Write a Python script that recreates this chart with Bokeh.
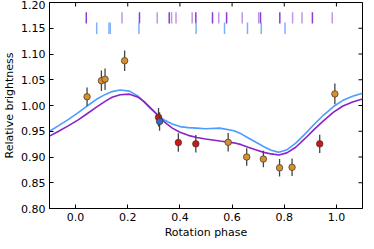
from bokeh.plotting import figure
from bokeh.models import FixedTicker, Range1d
from bokeh.embed import file_html
from bokeh.resources import INLINE

# ---- data ----
orange_phase = [0.044, 0.099, 0.113, 0.188, 0.585, 0.656, 0.720, 0.782, 0.830, 0.994]
orange_val   = [1.017, 1.048, 1.051, 1.087, 0.9285, 0.900, 0.896, 0.879, 0.880, 1.0225]
orange_err   = [0.018, 0.020, 0.021, 0.020, 0.018, 0.017, 0.016, 0.017, 0.017, 0.020]

red_phase = [0.318, 0.394, 0.461, 0.936]
red_val   = [0.977, 0.928, 0.9255, 0.9255]
red_err   = [0.018, 0.018, 0.017, 0.0175]

blue_phase = [0.322]
blue_val   = [0.969]
blue_err   = [0.018]

curve_phase  = [-0.10, -0.065, -0.03, 0.01, 0.044, 0.08, 0.116, 0.14, 0.171, 0.207, 0.24,
                0.262, 0.29, 0.316, 0.34, 0.371, 0.40, 0.432, 0.465, 0.498, 0.553, 0.607,
                0.635, 0.662, 0.69, 0.722, 0.75, 0.78, 0.81, 0.844, 0.88, 0.916, 0.95,
                0.989, 1.025, 1.062, 1.10]
curve_blue   = [0.950, 0.961, 0.972, 0.986, 0.999, 1.012, 1.022, 1.027, 1.030, 1.028, 1.018,
                1.007, 0.993, 0.981, 0.972, 0.964, 0.959, 0.957, 0.956, 0.955, 0.956, 0.951,
                0.945, 0.937, 0.929, 0.920, 0.913, 0.909, 0.914, 0.927, 0.945, 0.964, 0.981,
                0.998, 1.010, 1.018, 1.024]
curve_purple = [0.9405, 0.950, 0.960, 0.972, 0.984, 0.997, 1.009, 1.016, 1.021, 1.022, 1.016,
                1.008, 0.994, 0.981, 0.968, 0.956, 0.948, 0.942, 0.938, 0.935, 0.931, 0.9275,
                0.924, 0.919, 0.914, 0.909, 0.906, 0.904, 0.908, 0.919, 0.936, 0.954, 0.970,
                0.987, 0.999, 1.007, 1.0125]

purple_dark_ticks  = [0.041, 0.245, 0.359, 0.461, 0.525, 0.579, 0.709, 0.783, 0.908]
purple_light_ticks = [0.178, 0.313, 0.368, 0.385, 0.447, 0.549, 0.639, 0.702, 0.832, 0.868, 0.984]
blue_ticks = [0.081, 0.128, 0.133, 0.243, 0.462, 0.571, 0.659, 0.712, 0.803]

x_ticks = [0.0, 0.2, 0.4, 0.6, 0.8, 1.0]
y_ticks = [0.80, 0.85, 0.90, 0.95, 1.00, 1.05, 1.10, 1.15, 1.20]

X_MIN, X_MAX = -0.1, 1.1
Y_MIN, Y_MAX = 0.80, 1.20

FONT = "DejaVu Sans"
FS = "11px"

p = figure(width=366, height=241, output_backend="svg", toolbar_location=None,
           x_range=Range1d(X_MIN, X_MAX), y_range=Range1d(Y_MIN, Y_MAX),
           min_border_left=2, min_border_right=4, min_border_top=2, min_border_bottom=2)
p.background_fill_color = "white"
p.border_fill_color = "white"
p.outline_line_color = "black"
p.grid.visible = False

for ax in (p.xaxis[0], p.yaxis[0]):
    ax.axis_line_color = "black"
    ax.major_tick_in = 4
    ax.major_tick_out = 0
    ax.minor_tick_line_color = None
    ax.major_label_text_font = FONT
    ax.major_label_text_font_size = FS
    ax.major_label_text_color = "black"
    ax.axis_label_text_font = FONT
    ax.axis_label_text_font_size = FS
    ax.axis_label_text_font_style = "normal"
    ax.axis_label_text_color = "black"
    ax.major_label_standoff = 4
    ax.axis_label_standoff = 2

p.xaxis[0].ticker = FixedTicker(ticks=x_ticks)
p.yaxis[0].ticker = FixedTicker(ticks=y_ticks)
p.xaxis[0].axis_label = "Rotation phase"
p.yaxis[0].axis_label = "Relative brightness"
p.yaxis[0].major_label_overrides = {t: f"{t:.2f}" for t in y_ticks}
p.xaxis[0].major_label_overrides = {t: f"{t:.1f}" for t in x_ticks}

# inward tick marks on the top and right edges (half of each dash is clipped by the frame)
p.scatter(x_ticks, [Y_MAX] * len(x_ticks), marker="dash", angle=1.5708, size=8,
          line_color="black", line_width=1)
p.scatter([X_MAX] * len(y_ticks), y_ticks, marker="dash", size=8,
          line_color="black", line_width=1)

# tick rows at top
PTOP, PBOT = 1.181, 1.159
BTOP, BBOT = 1.161, 1.139
p.segment(x0=purple_light_ticks, x1=purple_light_ticks,
          y0=[PBOT] * len(purple_light_ticks), y1=[PTOP] * len(purple_light_ticks),
          line_color="#b98ce0", line_width=1.5, line_alpha=0.9)
p.segment(x0=purple_dark_ticks, x1=purple_dark_ticks,
          y0=[PBOT] * len(purple_dark_ticks), y1=[PTOP] * len(purple_dark_ticks),
          line_color="#8e3bd0", line_width=1.5)
p.segment(x0=blue_ticks, x1=blue_ticks,
          y0=[BBOT] * len(blue_ticks), y1=[BTOP] * len(blue_ticks),
          line_color="#7fb2f5", line_width=1.5)

# model curves
p.line(curve_phase, curve_blue, line_color="#4d9cff", line_width=1.6)
p.line(curve_phase, curve_purple, line_color="#8a22c8", line_width=1.6)

# data points with error bars
def draw(ph, val, err, color):
    lo = [v - e for v, e in zip(val, err)]
    hi = [v + e for v, e in zip(val, err)]
    p.segment(x0=ph, x1=ph, y0=lo, y1=hi, line_color="#444444", line_width=1.3)
    p.scatter(ph, val, size=6.5, fill_color=color, line_color="#333333", line_width=0.7)

draw(orange_phase, orange_val, orange_err, "#d9902a")
draw(red_phase, red_val, red_err, "#d41515")
draw(blue_phase, blue_val, blue_err, "#2f6fc8")

open("out.html", "w").write(file_html(p, INLINE))
